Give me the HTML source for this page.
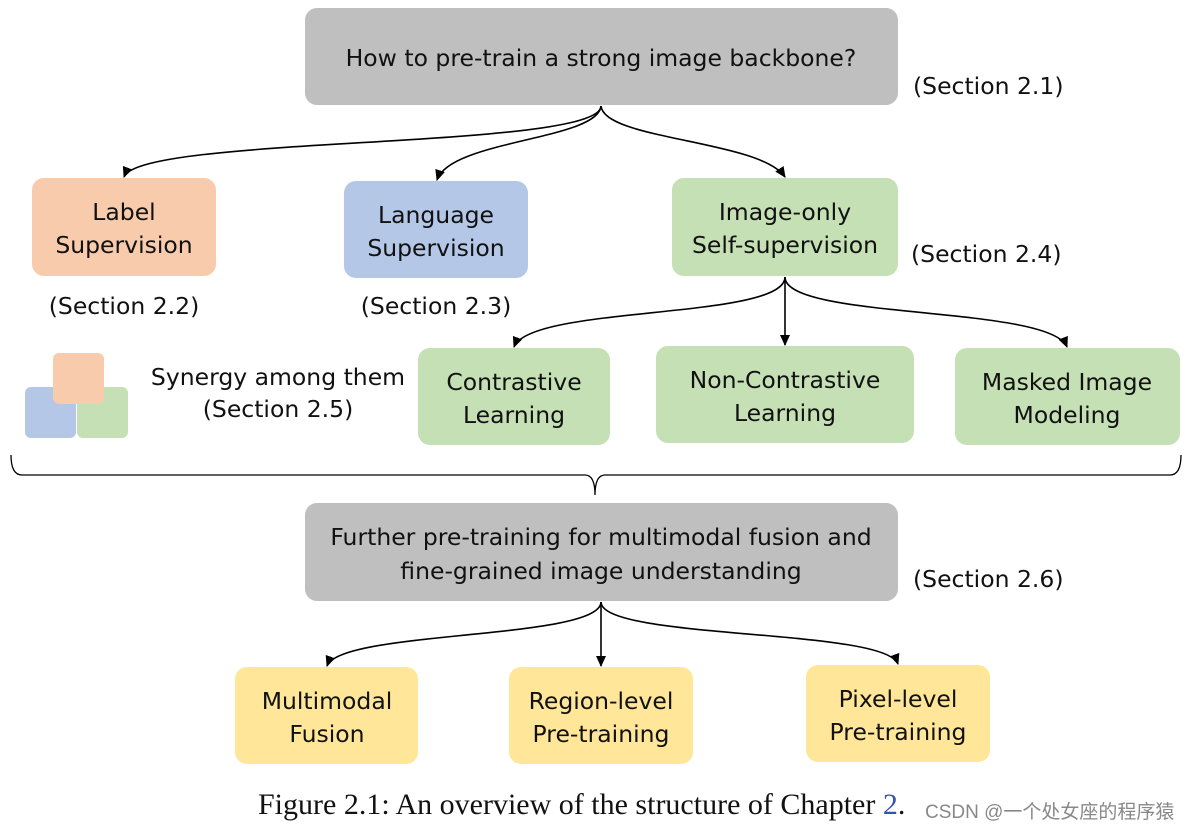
<!DOCTYPE html>
<html><head><meta charset="utf-8"><style>
html,body{margin:0;padding:0;background:#fff;width:1193px;height:831px;overflow:hidden}
svg text{font-family:"DejaVu Sans","Liberation Sans",sans-serif;fill:#111}
</style></head><body>
<svg width="1193" height="831" viewBox="0 0 1193 831" xmlns="http://www.w3.org/2000/svg">
<defs>
<marker id="a" markerWidth="12" markerHeight="12" refX="10" refY="6" orient="auto" markerUnits="userSpaceOnUse">
<path d="M0,1 L11,6 L0,11 Z" fill="#000"/></marker>
</defs>
<g fill="none" stroke="#000" stroke-width="1.6">
<path d="M601,106 C600,150 140,135 124,177" marker-end="url(#a)"/>
<path d="M601,106 C598,140 450,140 437,180" marker-end="url(#a)"/>
<path d="M601,106 C604,140 760,140 785,177" marker-end="url(#a)"/>
<path d="M785,277 C785,320 530,305 514,347" marker-end="url(#a)"/>
<path d="M785,277 L785,345" marker-end="url(#a)"/>
<path d="M785,277 C785,320 1050,305 1067,347" marker-end="url(#a)"/>
<path d="M601,602 C600,640 340,630 327,666" marker-end="url(#a)"/>
<path d="M601,602 L601,666" marker-end="url(#a)"/>
<path d="M601,602 C602,640 885,628 898,664" marker-end="url(#a)"/>
<path d="M11,455 Q11,475 22,475 L585,475 Q595,475 595,495 Q595,475 605,475 L1170,475 Q1181,475 1181,455" stroke-width="1.3"/>
</g>
<rect x="305" y="8" width="593" height="97" rx="12" fill="#bfbfbf"/>
<rect x="305" y="503" width="593" height="98" rx="12" fill="#bfbfbf"/>
<rect x="32" y="178" width="184" height="98" rx="12" fill="#f8cbad"/>
<rect x="344" y="181" width="184" height="97" rx="12" fill="#b4c7e7"/>
<rect x="672" y="178" width="226" height="98" rx="12" fill="#c5e0b4"/>
<rect x="418" y="348" width="192" height="97" rx="12" fill="#c5e0b4"/>
<rect x="656" y="346" width="258" height="97" rx="12" fill="#c5e0b4"/>
<rect x="955" y="348" width="225" height="97" rx="12" fill="#c5e0b4"/>
<rect x="235" y="667" width="183" height="97" rx="12" fill="#ffe699"/>
<rect x="509" y="667" width="184" height="97" rx="12" fill="#ffe699"/>
<rect x="806" y="665" width="184" height="97" rx="12" fill="#ffe699"/>
<rect x="25" y="387" width="51" height="51" rx="6" fill="#b4c7e7"/>
<rect x="77" y="387" width="51" height="51" rx="6" fill="#c5e0b4"/>
<rect x="53" y="353" width="51" height="51" rx="6" fill="#f8cbad"/>
<g font-size="23.5" text-anchor="middle">
<text x="601" y="66">How to pre-train a strong image backbone?</text>
<text x="124" y="220">Label</text><text x="124" y="253">Supervision</text>
<text x="436" y="223">Language</text><text x="436" y="256">Supervision</text>
<text x="785" y="220">Image-only</text><text x="785" y="253">Self-supervision</text>
<text x="514" y="390">Contrastive</text><text x="514" y="423">Learning</text>
<text x="785" y="388">Non-Contrastive</text><text x="785" y="421">Learning</text>
<text x="1067" y="390">Masked Image</text><text x="1067" y="423">Modeling</text>
<text x="601" y="545">Further pre-training for multimodal fusion and</text>
<text x="601" y="579">fine-grained image understanding</text>
<text x="327" y="709">Multimodal</text><text x="327" y="742">Fusion</text>
<text x="601" y="709">Region-level</text><text x="601" y="742">Pre-training</text>
<text x="898" y="707">Pixel-level</text><text x="898" y="740">Pre-training</text>
<text x="124" y="314">(Section 2.2)</text>
<text x="436" y="314">(Section 2.3)</text>
<text x="278" y="385">Synergy among them</text>
<text x="278" y="417">(Section 2.5)</text>
</g>
<g font-size="23.5">
<text x="913" y="94">(Section 2.1)</text>
<text x="911" y="262">(Section 2.4)</text>
<text x="913" y="587">(Section 2.6)</text>
</g>
<text x="258" y="814" font-size="30" style="font-family:'Liberation Serif',serif">Figure 2.1: An overview of the structure of Chapter <tspan fill="#3355aa">2</tspan>.</text>
<text x="925" y="818" font-size="19" style="font-family:'Liberation Sans','Noto Sans CJK SC',sans-serif;fill:#888">CSDN @一个处女座的程序猿</text>
</svg>
</body></html>
